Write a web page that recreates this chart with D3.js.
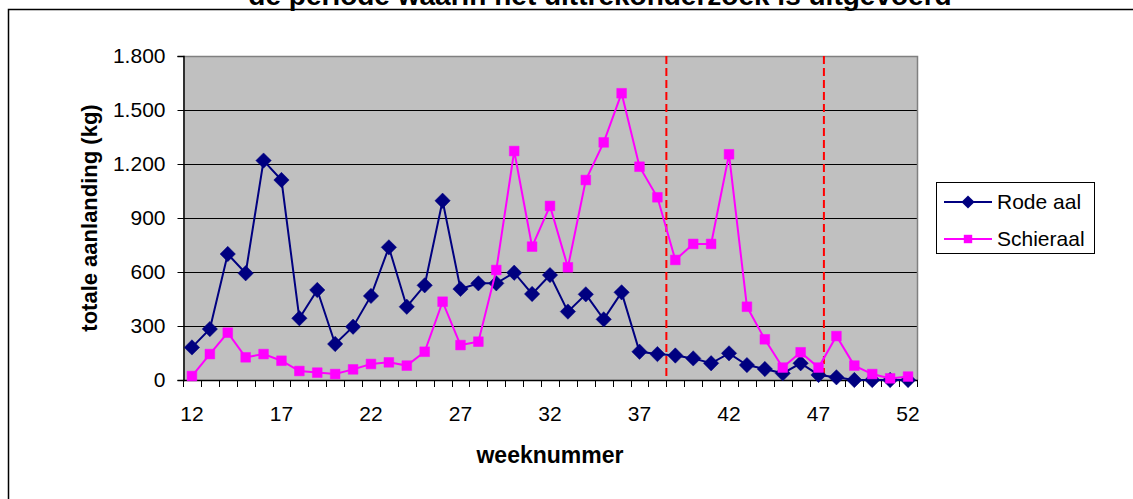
<!DOCTYPE html>
<html>
<head>
<meta charset="utf-8">
<script src="https://cdn.jsdelivr.net/npm/d3@7"></script>
<style>
  html, body { margin: 0; padding: 0; background: #ffffff; }
  svg { display: block; font-family: Arial, "Liberation Sans", sans-serif; }
</style>
</head>
<body>
<svg id="chart" width="1133" height="499"></svg>
<script>
// Weekly landings (kg) per eel type, weeks 12 to 52
const weeks = d3.range(12, 53);
const rodeAal = [181, 283, 700, 593, 1219, 1111, 343, 500, 200, 296,
                 467, 737, 407, 526, 996, 506, 537, 537, 596, 478,
                 583, 380, 476, 337, 487, 157, 144, 136, 120, 93,
                 148, 83, 61, 37, 93, 28, 15, 0, 0, 0, 0];
const schieraal = [22, 144, 263, 126, 144, 107, 50, 41, 33, 59,
                   89, 98, 80, 157, 435, 194, 213, 611, 1272, 741,
                   967, 626, 1111, 1320, 1593, 1185, 1015, 667, 756, 756,
                   1254, 407, 226, 69, 154, 69, 244, 80, 33, 9, 19];
const seriesNames = ["Rode aal", "Schieraal"];
const yTicks = [0, 300, 600, 900, 1200, 1500, 1800];
const xTickLabels = [12, 17, 22, 27, 32, 37, 42, 47, 52];
// Boundaries of the survey period (week positions)
const periodMarks = [38.5, 47.3];

const titleText = "de periode waarin het uittrekonderzoek is uitgevoerd";
const yTitle = "totale aanlanding (kg)";
const xTitle = "weeknummer";

const svg = d3.select("#chart");
const plot = { left: 183, right: 917, top: 56, bottom: 380 };

const x = d3.scaleLinear().domain([11.5, 52.5]).range([plot.left, plot.right]);
const y = d3.scaleLinear().domain([0, 1800]).range([plot.bottom, plot.top]);

// Outer chart frame (runs past the right and bottom edges)
svg.append("path")
  .attr("d", `M8.5,499 L8.5,9.5 L1133,9.5`)
  .attr("fill", "none").attr("stroke", "#000").attr("stroke-width", 1.5);

// Title
svg.append("text")
  .attr("x", 600).attr("y", 5)
  .attr("text-anchor", "middle")
  .attr("font-weight", "bold").attr("font-size", 28)
  .text(titleText);

// Plot background
svg.append("rect")
  .attr("x", plot.left).attr("y", plot.top)
  .attr("width", plot.right - plot.left).attr("height", plot.bottom - plot.top)
  .attr("fill", "#c0c0c0");

// Horizontal gridlines
svg.append("g")
  .selectAll("line")
  .data(yTicks.filter(v => v > 0 && v < 1800))
  .join("line")
  .attr("x1", plot.left).attr("x2", plot.right)
  .attr("y1", d => Math.round(y(d)) + 0.5).attr("y2", d => Math.round(y(d)) + 0.5)
  .attr("stroke", "#000").attr("stroke-width", 1);

// Plot area border (top and right)
svg.append("path")
  .attr("d", `M${plot.left},${plot.top + 0.5} L${plot.right + 0.5},${plot.top + 0.5} L${plot.right + 0.5},${plot.bottom}`)
  .attr("fill", "none").attr("stroke", "#808080").attr("stroke-width", 1.5);

// Y axis
const yAxis = d3.axisLeft(y).tickValues(yTicks).tickSize(6).tickPadding(12)
  .tickFormat(d => d3.format(",")(d).replace(/,/g, "."));
const gy = svg.append("g")
  .attr("transform", `translate(${plot.left + 0.5},0)`)
  .call(yAxis);
gy.select(".domain").attr("stroke", "#000").attr("stroke-width", 1.5);
gy.selectAll(".tick line").attr("stroke", "#000");
gy.selectAll(".tick text").attr("font-size", 21).attr("fill", "#000")
  .attr("font-family", "Arial, 'Liberation Sans', sans-serif");

// X axis: tick marks at category boundaries, labels every fifth week
const boundaries = d3.range(11.5, 53, 1);
const gx = svg.append("g");
gx.append("line")
  .attr("x1", plot.left).attr("x2", plot.right + 1)
  .attr("y1", plot.bottom + 0.5).attr("y2", plot.bottom + 0.5)
  .attr("stroke", "#000").attr("stroke-width", 1.5);
gx.selectAll("line.tk")
  .data(boundaries)
  .join("line").attr("class", "tk")
  .attr("x1", d => Math.round(x(d)) + 0.5).attr("x2", d => Math.round(x(d)) + 0.5)
  .attr("y1", plot.bottom).attr("y2", plot.bottom + 7)
  .attr("stroke", "#000").attr("stroke-width", 1);
gx.selectAll("text")
  .data(xTickLabels)
  .join("text")
  .attr("x", d => x(d)).attr("y", 421)
  .attr("text-anchor", "middle").attr("font-size", 21)
  .text(d => d);

// Survey period markers
svg.append("g")
  .selectAll("line")
  .data(periodMarks)
  .join("line")
  .attr("x1", d => x(d)).attr("x2", d => x(d))
  .attr("y1", plot.top).attr("y2", plot.bottom)
  .attr("stroke", "#ff0000").attr("stroke-width", 2)
  .attr("stroke-dasharray", "8,4");

// Series
const series = [
  { name: seriesNames[0], values: rodeAal, color: "#000080", symbol: d3.symbolDiamond2 },
  { name: seriesNames[1], values: schieraal, color: "#ff00ff", symbol: d3.symbolSquare2 }
];

const line = d3.line().x((d, i) => x(weeks[i])).y(d => y(d));

series.forEach(s => {
  svg.append("path")
    .datum(s.values)
    .attr("d", line)
    .attr("fill", "none").attr("stroke", s.color).attr("stroke-width", 2);
  svg.append("g")
    .selectAll("path")
    .data(s.values)
    .join("path")
    .attr("transform", (d, i) => `translate(${x(weeks[i])},${y(d)})`)
    .attr("d", d3.symbol().type(s.symbol).size(s.symbol === d3.symbolDiamond2 ? 150 : 120)())
    .attr("fill", s.color).attr("stroke", s.color).attr("stroke-width", 0.5);
});

// Axis titles
svg.append("text")
  .attr("transform", `translate(97,${(plot.top + plot.bottom) / 2}) rotate(-90)`)
  .attr("text-anchor", "middle")
  .attr("font-weight", "bold").attr("font-size", 22)
  .text(yTitle);

svg.append("text")
  .attr("x", 550).attr("y", 463)
  .attr("text-anchor", "middle")
  .attr("font-weight", "bold").attr("font-size", 23)
  .text(xTitle);

// Legend
const legend = svg.append("g");
legend.append("rect")
  .attr("x", 936.5).attr("y", 182.5).attr("width", 158).attr("height", 71)
  .attr("fill", "#fff").attr("stroke", "#000").attr("stroke-width", 1);
series.forEach((s, i) => {
  const ly = 202 + i * 37;
  legend.append("line")
    .attr("x1", 944).attr("x2", 992).attr("y1", ly).attr("y2", ly)
    .attr("stroke", s.color).attr("stroke-width", 2);
  legend.append("path")
    .attr("transform", `translate(968,${ly})`)
    .attr("d", d3.symbol().type(s.symbol).size(s.symbol === d3.symbolDiamond2 ? 110 : 90)())
    .attr("fill", s.color);
  legend.append("text")
    .attr("x", 997).attr("y", ly + 7)
    .attr("font-size", 21)
    .text(s.name);
});
</script>
</body>
</html>
